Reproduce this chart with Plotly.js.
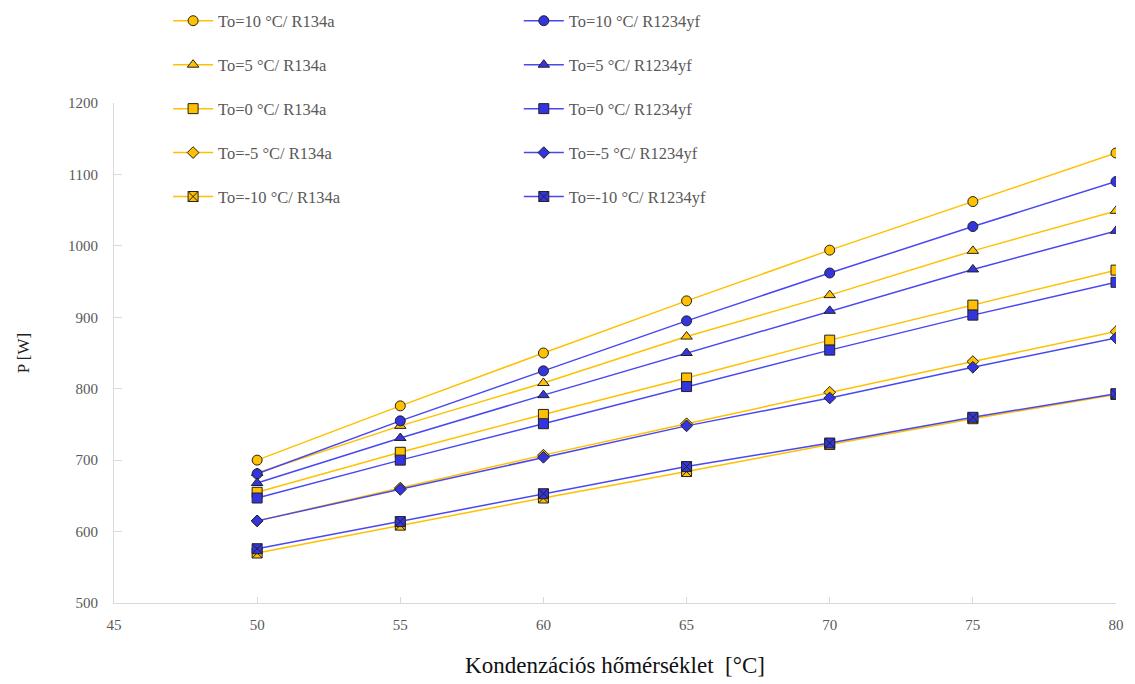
<!DOCTYPE html>
<html>
<head>
<meta charset="utf-8">
<script src="https://cdn.plot.ly/plotly-3.0.1.min.js"></script>
<style>html,body{margin:0;padding:0;background:#fff;}#chart{width:1135px;height:684px;}</style>
</head>
<body>
<div id="chart"></div>
<script>
const xTemp = [50, 55, 60, 65, 70, 75, 80];

const r134a_10 = [700, 776, 850, 923, 994, 1062, 1130];
const r134a_5 = [682, 748, 808, 873, 931, 993, 1049];
const r134a_0 = [655, 711, 764, 815, 868, 917, 966];
const r134a_m5 = [615, 661, 707, 751, 795, 838, 880];
const r134a_m10 = [570, 609, 647, 684, 722, 758, 792];

const r1234yf_10 = [681, 755, 825, 895, 962, 1027, 1090];
const r1234yf_5 = [668, 731, 791, 850, 909, 967, 1021];
const r1234yf_0 = [647, 700, 751, 803, 854, 903, 949];
const r1234yf_m5 = [615, 659, 704, 748, 787, 830, 871];
const r1234yf_m10 = [576, 614, 653, 691, 724, 760, 793];

const namesR134a = ["To=10 °C/ R134a", "To=5 °C/ R134a", "To=0 °C/ R134a", "To=-5 °C/ R134a", "To=-10 °C/ R134a"];
const namesR1234yf = ["To=10 °C/ R1234yf", "To=5 °C/ R1234yf", "To=0 °C/ R1234yf", "To=-5 °C/ R1234yf", "To=-10 °C/ R1234yf"];

const seriesR134a = [r134a_10, r134a_5, r134a_0, r134a_m5, r134a_m10];
const seriesR1234yf = [r1234yf_10, r1234yf_5, r1234yf_0, r1234yf_m5, r1234yf_m10];

const symbols = ["circle", "triangle-up", "square", "diamond", "square-x"];
const sizes = [10, 10, 10, 9, 10];

const orange = "#FFC000";
const blue = "#4848F0";
const blueFill = "#3535E0";

const traces = [];
seriesR134a.forEach((ys, i) => {
  traces.push({
    x: xTemp, y: ys, type: "scatter", mode: "lines+markers", name: namesR134a[i],
    legend: "legend", legendgroup: "a" + i,
    line: {color: orange, width: 1.5},
    marker: {symbol: symbols[i], size: sizes[i], color: orange, line: {color: "#222", width: 1}}
  });
});
seriesR1234yf.forEach((ys, i) => {
  traces.push({
    x: xTemp, y: ys, type: "scatter", mode: "lines+markers", name: namesR1234yf[i],
    legend: "legend2", legendgroup: "b" + i,
    line: {color: blue, width: 1.5},
    marker: {symbol: symbols[i], size: sizes[i], color: blueFill, line: {color: "#222", width: 1}}
  });
});

const serif = "Liberation Serif, Times New Roman, serif";
const legFont = {family: serif, size: 16.5, color: "#595959"};

const layout = {
  width: 1135, height: 684,
  margin: {l: 114, r: 19, t: 103, b: 81, autoexpand: false},
  paper_bgcolor: "#fff", plot_bgcolor: "#fff",
  showlegend: true,
  font: {family: serif, color: "#595959"},
  xaxis: {
    range: [45, 80], dtick: 5, tick0: 45,
    showgrid: false, zeroline: false,
    showline: true, linecolor: "#d9d9d9", linewidth: 1,
    ticks: "inside", ticklen: 6, tickcolor: "#d9d9d9",
    ticklabelstandoff: 8,
    tickfont: {family: serif, size: 15, color: "#595959"},
    title: {text: "Kondenzációs hőmérséklet  [°C]", font: {family: serif, size: 23, color: "#111"}, standoff: 24}
  },
  yaxis: {
    range: [500, 1200], dtick: 100,
    showgrid: false, zeroline: false,
    showline: true, linecolor: "#d9d9d9", linewidth: 1,
    ticks: "inside", ticklen: 8, tickcolor: "#d9d9d9",
    ticklabelstandoff: 12,
    tickfont: {family: serif, size: 15, color: "#595959"},
    title: {text: "P [W]", font: {family: serif, size: 17, color: "#222"}, standoff: 34}
  },
  legend: {
    x: 0.054, y: 1.199, xanchor: "left", yanchor: "top",
    orientation: "v", tracegroupgap: 19.5,
    font: legFont, bgcolor: "rgba(0,0,0,0)", itemwidth: 40
  },
  legend2: {
    x: 0.404, y: 1.199, xanchor: "left", yanchor: "top",
    orientation: "v", tracegroupgap: 19.5,
    font: legFont, bgcolor: "rgba(0,0,0,0)", itemwidth: 40
  }
};

Plotly.newPlot("chart", traces, layout, {displayModeBar: false, staticPlot: true});
</script>
</body>
</html>
